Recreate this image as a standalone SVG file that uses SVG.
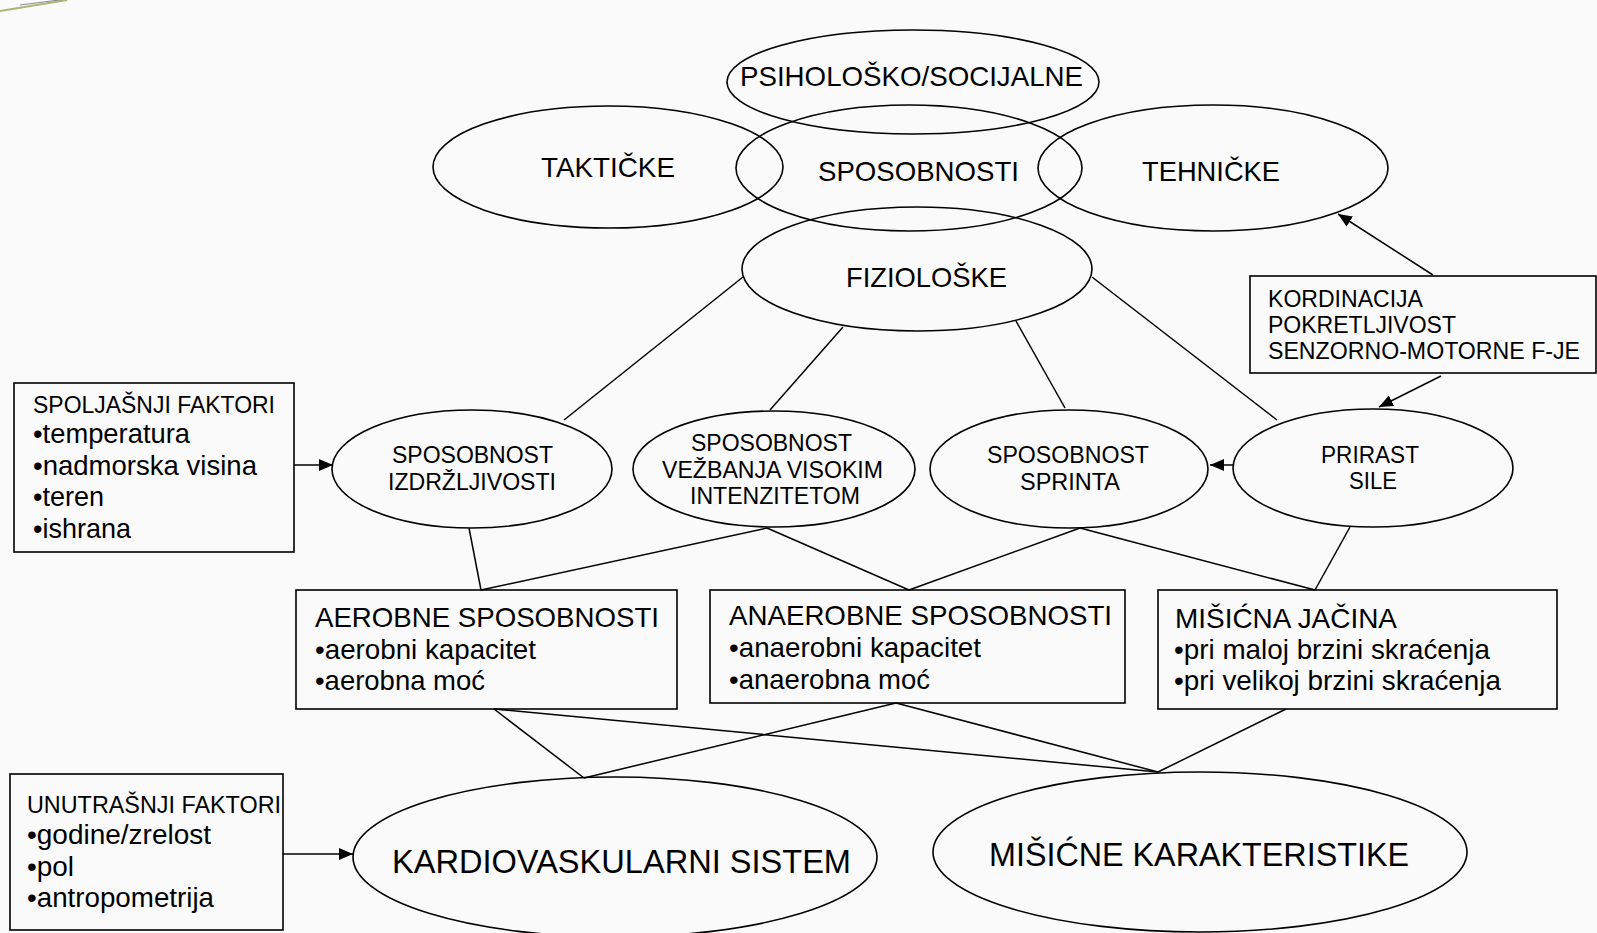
<svg xmlns="http://www.w3.org/2000/svg" width="1597" height="933" viewBox="0 0 1597 933">
<style>
.sh{fill:none;stroke:#000;stroke-width:1.6}
.ln{fill:none;stroke:#000;stroke-width:1.5}
.t{font-family:"Liberation Sans",Arial,sans-serif;fill:#000}
.f27{font-size:27.5px}
.f23{font-size:23px}
.f34{font-size:34px}
</style>
<defs>
<marker id="ah" markerWidth="14" markerHeight="12" refX="14" refY="6" orient="auto" markerUnits="userSpaceOnUse"><path d="M0,0 L14,6 L0,12 z" fill="#000"/></marker>
</defs>
<rect x="0" y="0" width="1597" height="933" fill="#fafafa"/>
<g id="decor">
<line x1="0" y1="11" x2="67" y2="0" stroke="#a9b774" stroke-width="2"/>
<line x1="20" y1="5" x2="67" y2="-1" stroke="#888" stroke-width="1"/>
</g>
<g id="connectors">
<line class="ln" x1="743" y1="277" x2="564" y2="420"/>
<line class="ln" x1="843" y1="327" x2="770" y2="410"/>
<line class="ln" x1="1016" y1="321" x2="1065" y2="408"/>
<line class="ln" x1="1092" y1="277" x2="1277" y2="420"/>
<line class="ln" x1="469" y1="528" x2="481" y2="590"/>
<line class="ln" x1="767" y1="528" x2="481" y2="590"/>
<line class="ln" x1="767" y1="528" x2="909" y2="590"/>
<line class="ln" x1="1080" y1="528" x2="909" y2="590"/>
<line class="ln" x1="1080" y1="528" x2="1315" y2="590"/>
<line class="ln" x1="1350" y1="527" x2="1315" y2="590"/>
<line class="ln" x1="494" y1="709" x2="584" y2="778"/>
<line class="ln" x1="494" y1="709" x2="1158" y2="772"/>
<line class="ln" x1="896" y1="703" x2="584" y2="778"/>
<line class="ln" x1="896" y1="703" x2="1158" y2="772"/>
<line class="ln" x1="1286" y1="709" x2="1158" y2="772"/>
<line class="ln" x1="294" y1="465" x2="333" y2="465" marker-end="url(#ah)"/>
<line class="ln" x1="283" y1="854" x2="353" y2="854" marker-end="url(#ah)"/>
<line class="ln" x1="1233" y1="465" x2="1210" y2="465" marker-end="url(#ah)"/>
<line class="ln" x1="1433" y1="275" x2="1338" y2="214" marker-end="url(#ah)"/>
<line class="ln" x1="1441" y1="376" x2="1379" y2="407" marker-end="url(#ah)"/>
</g>
<g id="n-psiho">
<ellipse class="sh" cx="913" cy="82" rx="186" ry="52"/>
<text class="t f27" x="740" y="86" textLength="343" lengthAdjust="spacingAndGlyphs">PSIHOLOŠKO/SOCIJALNE</text>
</g>
<g id="n-takticke">
<ellipse class="sh" cx="608" cy="167" rx="175" ry="61"/>
<text class="t f27" x="541" y="177" textLength="134" lengthAdjust="spacingAndGlyphs">TAKTIČKE</text>
</g>
<g id="n-sposobnosti">
<ellipse class="sh" cx="909" cy="168" rx="173" ry="63"/>
<text class="t f27" x="818" y="181" textLength="201" lengthAdjust="spacingAndGlyphs">SPOSOBNOSTI</text>
</g>
<g id="n-tehnicke">
<ellipse class="sh" cx="1213" cy="168" rx="175" ry="63"/>
<text class="t f27" x="1142" y="181" textLength="138" lengthAdjust="spacingAndGlyphs">TEHNIČKE</text>
</g>
<g id="n-fizioloske">
<ellipse class="sh" cx="917" cy="269" rx="175" ry="62"/>
<text class="t f27" x="846" y="287" textLength="161" lengthAdjust="spacingAndGlyphs">FIZIOLOŠKE</text>
</g>
<g id="n-izdrzljivost">
<ellipse class="sh" cx="472" cy="469" rx="140" ry="59"/>
<text class="t f23" x="392" y="463" textLength="161" lengthAdjust="spacingAndGlyphs">SPOSOBNOST</text>
<text class="t f23" x="388" y="490" textLength="168" lengthAdjust="spacingAndGlyphs">IZDRŽLJIVOSTI</text>
</g>
<g id="n-vezbanje">
<ellipse class="sh" cx="774" cy="469" rx="141" ry="58"/>
<text class="t f23" x="691" y="451" textLength="161" lengthAdjust="spacingAndGlyphs">SPOSOBNOST</text>
<text class="t f23" x="662" y="478" textLength="221" lengthAdjust="spacingAndGlyphs">VEŽBANJA VISOKIM</text>
<text class="t f23" x="690" y="504" textLength="170" lengthAdjust="spacingAndGlyphs">INTENZITETOM</text>
</g>
<g id="n-sprint">
<ellipse class="sh" cx="1069" cy="469" rx="139" ry="59"/>
<text class="t f23" x="987" y="463" textLength="162" lengthAdjust="spacingAndGlyphs">SPOSOBNOST</text>
<text class="t f23" x="1020" y="490" textLength="100" lengthAdjust="spacingAndGlyphs">SPRINTA</text>
</g>
<g id="n-prirast">
<ellipse class="sh" cx="1373" cy="468" rx="140" ry="59"/>
<text class="t f23" x="1321" y="463" textLength="98" lengthAdjust="spacingAndGlyphs">PRIRAST</text>
<text class="t f23" x="1349" y="489" textLength="48" lengthAdjust="spacingAndGlyphs">SILE</text>
</g>
<g id="n-kordinacija">
<rect class="sh" x="1250" y="276" width="346" height="97"/>
<text class="t f23" x="1268" y="307" textLength="155" lengthAdjust="spacingAndGlyphs">KORDINACIJA</text>
<text class="t f23" x="1268" y="333" textLength="188" lengthAdjust="spacingAndGlyphs">POKRETLJIVOST</text>
<text class="t f23" x="1268" y="359" textLength="312" lengthAdjust="spacingAndGlyphs">SENZORNO-MOTORNE F-JE</text>
</g>
<g id="n-spoljasnji">
<rect class="sh" x="14" y="383" width="280" height="169"/>
<text class="t f23" x="33" y="413" textLength="242" lengthAdjust="spacingAndGlyphs">SPOLJAŠNJI FAKTORI</text>
<text class="t f27" x="33" y="443" textLength="157" lengthAdjust="spacingAndGlyphs">•temperatura</text>
<text class="t f27" x="33" y="475" textLength="224" lengthAdjust="spacingAndGlyphs">•nadmorska visina</text>
<text class="t f27" x="33" y="506" textLength="71" lengthAdjust="spacingAndGlyphs">•teren</text>
<text class="t f27" x="33" y="538" textLength="98" lengthAdjust="spacingAndGlyphs">•ishrana</text>
</g>
<g id="n-aerobne">
<rect class="sh" x="296" y="590" width="381" height="119"/>
<text class="t f27" x="315" y="627" textLength="344" lengthAdjust="spacingAndGlyphs">AEROBNE SPOSOBNOSTI</text>
<text class="t f27" x="315" y="659" textLength="221" lengthAdjust="spacingAndGlyphs">•aerobni kapacitet</text>
<text class="t f27" x="315" y="690" textLength="170" lengthAdjust="spacingAndGlyphs">•aerobna moć</text>
</g>
<g id="n-anaerobne">
<rect class="sh" x="710" y="590" width="415" height="113"/>
<text class="t f27" x="729" y="625" textLength="383" lengthAdjust="spacingAndGlyphs">ANAEROBNE SPOSOBNOSTI</text>
<text class="t f27" x="729" y="657" textLength="252" lengthAdjust="spacingAndGlyphs">•anaerobni kapacitet</text>
<text class="t f27" x="729" y="689" textLength="201" lengthAdjust="spacingAndGlyphs">•anaerobna moć</text>
</g>
<g id="n-misicna">
<rect class="sh" x="1158" y="590" width="399" height="119"/>
<text class="t f27" x="1175" y="628" textLength="222" lengthAdjust="spacingAndGlyphs">MIŠIĆNA JAČINA</text>
<text class="t f27" x="1174" y="659" textLength="316" lengthAdjust="spacingAndGlyphs">•pri maloj brzini skraćenja</text>
<text class="t f27" x="1174" y="690" textLength="327" lengthAdjust="spacingAndGlyphs">•pri velikoj brzini skraćenja</text>
</g>
<g id="n-unutrasnji">
<rect class="sh" x="10" y="774" width="273" height="156"/>
<text class="t f23" x="27" y="813" textLength="254" lengthAdjust="spacingAndGlyphs">UNUTRAŠNJI FAKTORI</text>
<text class="t f27" x="27" y="844" textLength="184" lengthAdjust="spacingAndGlyphs">•godine/zrelost</text>
<text class="t f27" x="27" y="876" textLength="47" lengthAdjust="spacingAndGlyphs">•pol</text>
<text class="t f27" x="27" y="907" textLength="187" lengthAdjust="spacingAndGlyphs">•antropometrija</text>
</g>
<g id="n-kardio">
<ellipse class="sh" cx="615" cy="857" rx="262" ry="80"/>
<text class="t f34" x="392" y="873" textLength="459" lengthAdjust="spacingAndGlyphs">KARDIOVASKULARNI SISTEM</text>
</g>
<g id="n-misicne">
<ellipse class="sh" cx="1200" cy="852" rx="267" ry="80"/>
<text class="t f34" x="989" y="866" textLength="420" lengthAdjust="spacingAndGlyphs">MIŠIĆNE KARAKTERISTIKE</text>
</g>
</svg>
